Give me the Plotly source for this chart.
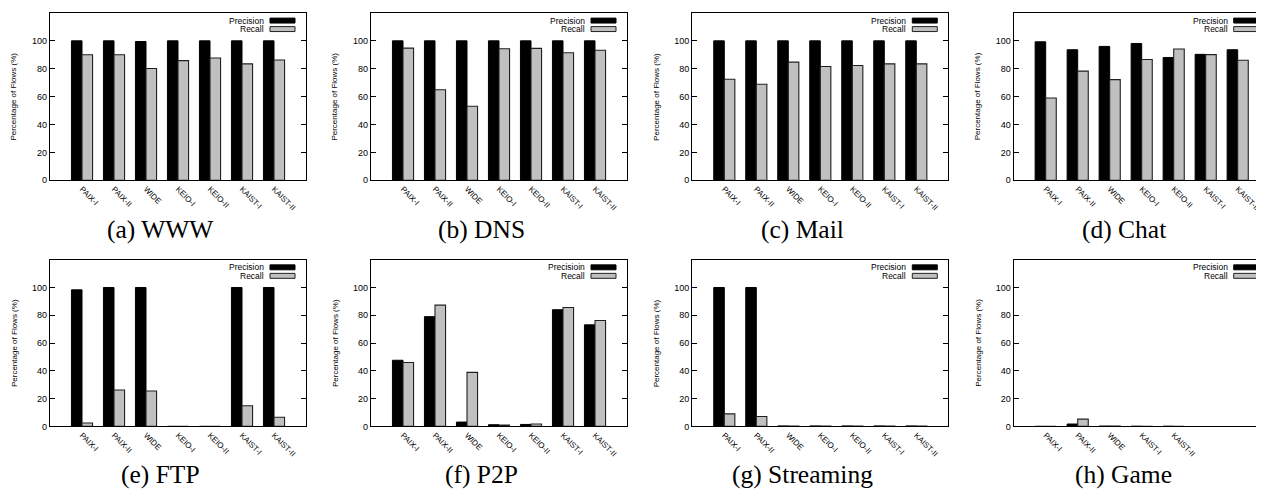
import plotly.graph_objects as go

# ---------------- data ----------------
sites = ["PAIX-I", "PAIX-II", "WIDE", "KEIO-I", "KEIO-II", "KAIST-I", "KAIST-II"]
game_sites = ["PAIX-I", "PAIX-II", "WIDE", "KAIST-I", "KAIST-II"]

www_precision = [100, 100, 99.5, 100, 100, 100, 100]
www_recall = [90, 90, 80.2, 85.8, 87.7, 83.5, 86.3]

dns_precision = [100, 100, 100, 100, 100, 100, 100]
dns_recall = [94.8, 64.9, 53.1, 94.3, 94.6, 91.5, 93.2]

mail_precision = [100, 100, 100, 100, 100, 100, 100]
mail_recall = [72.4, 68.9, 84.7, 81.6, 82.3, 83.5, 83.5]

chat_precision = [99.3, 93.6, 96.0, 98.1, 88.0, 90.3, 93.6]
chat_recall = [59.0, 78.3, 72.2, 86.6, 94.1, 90.1, 86.1]

ftp_precision = [98.3, 100, 100, 0, 0, 100, 100]
ftp_recall = [2.4, 26.2, 25.5, 0, 0, 14.9, 6.6]

p2p_precision = [47.6, 79.0, 3.1, 1.2, 1.4, 84.0, 73.1]
p2p_recall = [46.0, 87.3, 38.9, 0.9, 1.7, 85.6, 76.2]

streaming_precision = [100, 100, 0.3, 0.3, 0.3, 0.3, 0.3]
streaming_recall = [9.0, 7.1, 0.2, 0.2, 0.2, 0.2, 0.2]

game_precision = [0, 1.7, 0.2, 0.1, 0.1]
game_recall = [0, 5.2, 0.2, 0.1, 0]

captions = ["(a) WWW", "(b) DNS", "(c) Mail", "(d) Chat",
            "(e) FTP", "(f) P2P", "(g) Streaming", "(h) Game"]
precision_labels = ["Precision"] * 5 + ["Precisioin"] + ["Precision"] * 2
recall_label = "Recall"
y_title = "Percentage of Flows (%)"
y_ticks = [0, 20, 40, 60, 80, 100]

panels = [
    (sites, www_precision, www_recall),
    (sites, dns_precision, dns_recall),
    (sites, mail_precision, mail_recall),
    (sites, chat_precision, chat_recall),
    (sites, ftp_precision, ftp_recall),
    (sites, p2p_precision, p2p_recall),
    (sites, streaming_precision, streaming_recall),
    (game_sites, game_precision, game_recall),
]

# ---------------- layout geometry (window pixels) ----------------
WIN_W, WIN_H = 1264, 498
OFF = 8                      # default page body margin
W, H = WIN_W - OFF, WIN_H - OFF
col_left = [50, 371, 692.3, 1013.7]
plot_w = 256
row_top = [13, 262.3]
row_h = [169, 168.4]
caption_y = [232, 479]
GRAY = "#c0c0c0"
SANS = "Liberation Sans, Arial, sans-serif"
SERIF = "Liberation Serif, Times New Roman, serif"


def px(x):
    return (x - OFF) / W


def py(y):
    return 1 - (y - OFF) / H


fig = go.Figure()
annotations = []
shapes = []
layout = {}

for i, (cats, prec, rec) in enumerate(panels):
    n = i + 1
    r, c = divmod(i, 4)
    left = col_left[c]
    top = row_top[r]
    h = row_h[r]
    right = min(left + plot_w, WIN_W)
    full_units = 8
    x_max = full_units * (right - left) / plot_w
    xs = list(range(1, len(cats) + 1))
    xa = "x" if n == 1 else f"x{n}"
    ya = "y" if n == 1 else f"y{n}"

    fig.add_trace(go.Bar(x=xs, y=prec, xaxis=xa, yaxis=ya, showlegend=False,
                         marker=dict(color="black", line=dict(color="black", width=1)),
                         offsetgroup="p"))
    fig.add_trace(go.Bar(x=xs, y=rec, xaxis=xa, yaxis=ya, showlegend=False,
                         marker=dict(color=GRAY, line=dict(color="#202020", width=1.1)),
                         offsetgroup="r"))

    clipped = right < left + plot_w - 0.5
    layout["xaxis" if n == 1 else f"xaxis{n}"] = dict(
        domain=[px(left), px(right)], anchor=ya, range=[0, x_max],
        tickvals=xs, ticktext=cats, tickangle=45, ticks="",
        tickfont=dict(family=SANS, size=8, color="black"),
        showline=True, linecolor="black", linewidth=1.3, mirror=True,
        showgrid=False, zeroline=False, fixedrange=True,
    )
    layout["yaxis" if n == 1 else f"yaxis{n}"] = dict(
        domain=[py(top + h), py(top)], anchor=xa, range=[0, 120],
        tickvals=y_ticks, ticks="inside", ticklen=5, tickcolor="black", tickwidth=1,
        tickfont=dict(family=SANS, size=9, color="black"),
        showline=True, linecolor="black", linewidth=1.3,
        mirror=False if clipped else "ticks",
        showgrid=False, zeroline=False, fixedrange=True,
    )

    # y title
    annotations.append(dict(text=y_title, x=px(left - 36), y=py(top + h / 2),
                            xref="paper", yref="paper", showarrow=False,
                            textangle=-90, xanchor="center", yanchor="middle",
                            font=dict(family=SANS, size=8, color="black")))
    # caption
    annotations.append(dict(text=captions[i], x=px(left + plot_w / 2 - 18), y=py(caption_y[r]),
                            xref="paper", yref="paper", showarrow=False,
                            xanchor="center", yanchor="middle",
                            font=dict(family=SERIF, size=25.5, color="black")))
    # legend
    pr = left + plot_w
    for label, yc, fill, lc in [(precision_labels[i], top + 7.7, "black", "black"),
                                (recall_label, top + 16.3, GRAY, "#202020")]:
        annotations.append(dict(text=label, x=px(pr - 40), y=py(yc),
                                xref="paper", yref="paper", showarrow=False,
                                xanchor="right", yanchor="middle",
                                font=dict(family=SANS, size=8.5, color="black")))
        shapes.append(dict(type="rect", xref="paper", yref="paper",
                           x0=px(pr - 36), x1=px(pr - 11), y0=py(yc + 2.5), y1=py(yc - 2.5),
                           fillcolor=fill, line=dict(color=lc, width=1)))

fig.update_layout(
    width=W, height=H,
    margin=dict(l=0, r=0, t=0, b=0),
    paper_bgcolor="white", plot_bgcolor="white",
    barmode="group", bargap=0.34, bargroupgap=0,
    annotations=annotations, shapes=shapes,
    **layout,
)

fig.write_html("out.html")
